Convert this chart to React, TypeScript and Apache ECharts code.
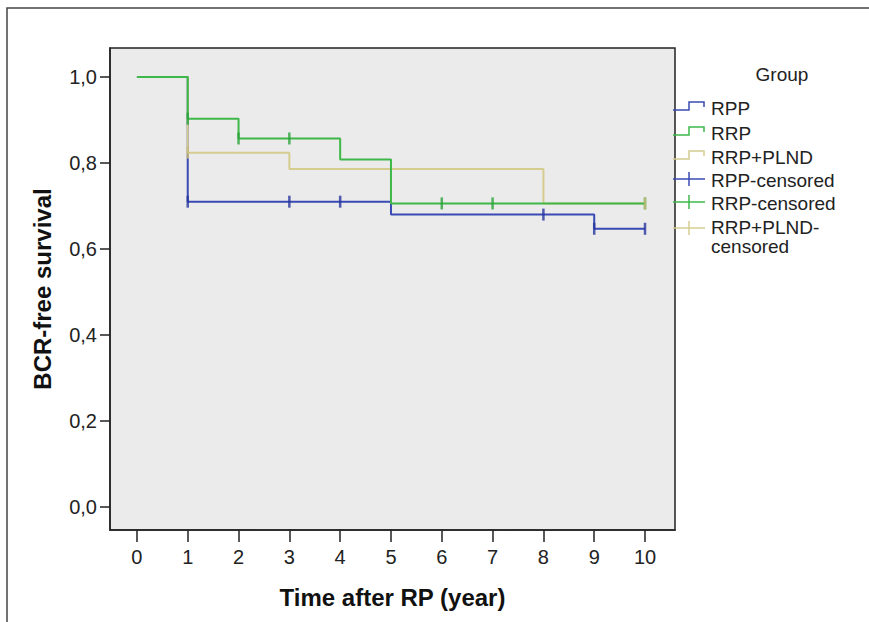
import React, { useEffect, useRef } from "react";
import * as echarts from "echarts";

const xTicks = [0, 1, 2, 3, 4, 5, 6, 7, 8, 9, 10];
const yTicks = [0, 0.2, 0.4, 0.6, 0.8, 1.0];

const rppTimes = [0, 1, 5, 9, 10];
const rppSurv = [1.0, 0.71, 0.68, 0.647, 0.647];
const rrpTimes = [0, 1, 2, 4, 5, 10];
const rrpSurv = [1.0, 0.903, 0.857, 0.808, 0.706, 0.706];
const plndTimes = [0, 1, 3, 8, 10];
const plndSurv = [1.0, 0.824, 0.786, 0.706, 0.706];

const rppCensT = [1, 3, 4, 8, 9, 10];
const rppCensS = [0.71, 0.71, 0.71, 0.68, 0.647, 0.647];
const rrpCensT = [1, 2, 3, 6, 7, 10];
const rrpCensS = [0.903, 0.857, 0.857, 0.706, 0.706, 0.706];
const plndCensT = [1, 10];
const plndCensS = [0.824, 0.706];

const legendNames = ["RPP", "RRP", "RRP+PLND", "RPP-censored", "RRP-censored", "RRP+PLND-\ncensored"];

const BLUE = "#3a4ab4";
const GREEN = "#3fb84a";
const TAN = "#d5cc90";
const BLUE_C = "#27369e";
const GREEN_C = "#2aa23a";
const TAN_C = "#c9bd78";

const zip = (a: number[], b: number[]) => a.map((v, i) => [v, b[i]]);

export default function App() {
  const ref = useRef<HTMLDivElement>(null);
  useEffect(() => {
    document.body.style.margin = "0";
    const chart = echarts.init(ref.current!, null, { renderer: "svg" });
    const font = "Liberation Sans, Arial, sans-serif";
    const stepSeries = (name: string, t: number[], s: number[], color: string, z: number) => ({
      name,
      type: "line",
      step: "end",
      data: zip(t, s),
      showSymbol: false,
      symbol: "none",
      lineStyle: { color, width: 2 },
      z,
    });
    const censSeries = (name: string, t: number[], s: number[], color: string, z: number) => ({
      name,
      type: "scatter",
      data: zip(t, s),
      symbol: "rect",
      symbolSize: [2.5, 12],
      itemStyle: { color },
      z,
    });
    const legendColors = [BLUE, GREEN, TAN, BLUE, GREEN, TAN];
    const legendY = [108, 133, 157, 180, 203, 237];
    const legendGraphics: any[] = [];
    legendGraphics.push({
      type: "text",
      x: 782,
      y: 74,
      style: { text: "Group", font: `19px ${font}`, fill: "#222", align: "center", verticalAlign: "middle" },
    });
    legendNames.forEach((n, i) => {
      const y = legendY[i];
      const c = legendColors[i];
      if (i < 3) {
        legendGraphics.push({
          type: "polyline",
          shape: { points: [[673, y + 2], [689, y + 2], [689, y - 6], [704, y - 6], [704, y - 1]] },
          style: { stroke: c, lineWidth: 1.5, fill: null },
        });
      } else {
        const cy = i === 5 ? y - 9 : y - 1;
        legendGraphics.push({
          type: "line",
          shape: { x1: 673, y1: cy, x2: 705, y2: cy },
          style: { stroke: c, lineWidth: 1.5 },
        });
        legendGraphics.push({
          type: "line",
          shape: { x1: 689, y1: cy - 7, x2: 689, y2: cy + 7 },
          style: { stroke: c, lineWidth: 1.5 },
        });
      }
      legendGraphics.push({
        type: "text",
        x: 711,
        y,
        style: {
          text: n,
          font: `19px ${font}`,
          fill: "#222",
          lineHeight: 19,
          verticalAlign: "middle",
        },
      });
    });
    chart.setOption({
      animation: false,
      backgroundColor: "#ffffff",
      grid: {
        left: 110,
        right: 194,
        top: 48,
        bottom: 92,
        show: true,
        backgroundColor: "#ebebeb",
        borderColor: "#222",
        borderWidth: 1.5,
      },
      xAxis: {
        type: "value",
        min: -0.53,
        max: 10.59,
        name: "Time after RP (year)",
        nameLocation: "middle",
        nameGap: 55,
        nameTextStyle: { fontFamily: font, fontWeight: "bold", fontSize: 24, color: "#111" },
        axisLine: { show: true, onZero: false, lineStyle: { color: "#222", width: 1.5 } },
        axisTick: { show: true, customValues: xTicks, length: 12, lineStyle: { color: "#222", width: 1.5 } },
        axisLabel: {
          customValues: xTicks,
          margin: 17,
          fontFamily: font,
          fontSize: 20,
          color: "#222",
          formatter: (v: number) => String(v),
        },
        splitLine: { show: false },
      },
      yAxis: {
        type: "value",
        min: -0.0535,
        max: 1.0674,
        name: "BCR-free survival",
        nameLocation: "middle",
        nameGap: 56,
        nameTextStyle: { fontFamily: font, fontWeight: "bold", fontSize: 24, color: "#111" },
        axisLine: { show: true, onZero: false, lineStyle: { color: "#222", width: 1.5 } },
        axisTick: { show: true, customValues: yTicks, length: 10, lineStyle: { color: "#222", width: 1.5 } },
        axisLabel: {
          customValues: yTicks,
          margin: 13,
          fontFamily: font,
          fontSize: 20,
          color: "#222",
          formatter: (v: number) => v.toFixed(1).replace(".", ","),
        },
        splitLine: { show: false },
      },
      graphic: [
        {
          type: "rect",
          shape: { x: 7, y: 8, width: 900, height: 700 },
          style: { fill: null, stroke: "#444", lineWidth: 1.5 },
          silent: true,
        },
        ...legendGraphics,
      ],
      series: [
        stepSeries("RPP", rppTimes, rppSurv, BLUE, 2),
        stepSeries("RRP+PLND", plndTimes, plndSurv, TAN, 3),
        stepSeries("RRP", rrpTimes, rrpSurv, GREEN, 4),
        censSeries("RPP-censored", rppCensT, rppCensS, BLUE_C, 5),
        censSeries("RRP-censored", rrpCensT, rrpCensS, GREEN_C, 6),
        censSeries("RRP+PLND-censored", plndCensT, plndCensS, TAN_C, 7),
      ],
    });
    return () => chart.dispose();
  }, []);
  return <div ref={ref} style={{ width: 869, height: 622 }} />;
}
